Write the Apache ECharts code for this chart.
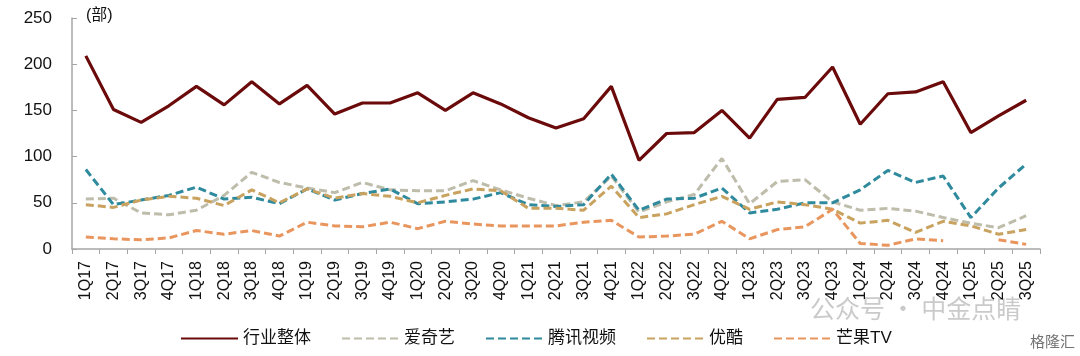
<!DOCTYPE html>
<html><head><meta charset="utf-8">
<script src="https://cdn.jsdelivr.net/npm/echarts@6/dist/echarts.min.js"></script>
<style>html,body{margin:0;padding:0;background:#fff}#c{width:1080px;height:356px}</style>
</head><body><div id="c"></div>
<script>
var categories = ['1Q17','2Q17','3Q17','4Q17','1Q18','2Q18','3Q18','4Q18','1Q19','2Q19','3Q19','4Q19','1Q20','2Q20','3Q20','4Q20','1Q21','2Q21','3Q21','4Q21','1Q22','2Q22','3Q22','4Q22','1Q23','2Q23','3Q23','4Q23','1Q24','2Q24','3Q24','4Q24','1Q25','2Q25','3Q25'];
var industryTotal = [209,151,137,155,176,156,181,157,177,146,158,158,169,150,169,157,142,131,141,176,96,125,126,150,120,162,164,197,135,168,170,181,126,144,161];
var iqiyi = [54,55,39,37,42,58,83,72,66,61,72,64,63,63,74,64,55,47,51,79,40,51,59,98,49,73,75,51,42,44,41,34,28,23,36];
var tencent = [86,48,53,58,67,54,56,49,65,53,60,65,49,51,54,61,48,46,48,81,42,54,55,66,39,43,50,50,64,85,72,79,34,66,92];
var youku = [48,45,53,57,55,47,64,50,65,55,60,57,50,58,65,63,44,44,42,68,34,38,48,57,43,51,48,43,28,31,18,30,25,16,21];
var mango = [13,11,10,12,20,16,20,14,29,25,24,29,22,30,27,25,25,25,29,31,13,14,16,30,11,21,24,43,6,4,11,9,null,10,5];
var seriesNames = ['行业整体','爱奇艺','腾讯视频','优酷','芒果TV'];
var yTicks = {min:0, max:250, interval:50};

var FONT = '"Liberation Sans", Arial, "Noto Sans CJK SC", sans-serif';
var chart = echarts.init(document.getElementById('c'), null, {renderer:'canvas'});
function dashed(name, data, color){
  return {name:name, type:'line', data:data, symbol:'none', showSymbol:false, connectNulls:false,
    lineStyle:{color:color, width:3, type:[8,4]}, itemStyle:{color:color}};
}
chart.setOption({
  animation:false,
  textStyle:{fontFamily:FONT},
  grid:{left:72, right:40, top:18, bottom:107, containLabel:false},
  legend:{left:175, top:325, itemWidth:57, itemHeight:12, itemGap:30,
    itemStyle:{opacity:0},
    textStyle:{fontSize:17, color:'#111', fontFamily:FONT},
    data:seriesNames},
  xAxis:{type:'category', data:categories, boundaryGap:true,
    axisLine:{lineStyle:{color:'#a6a6a6', width:1.5}},
    axisTick:{show:true, inside:false, length:5, interval:0, alignWithLabel:false, lineStyle:{color:'#a6a6a6'}},
    axisLabel:{rotate:90, interval:0, fontSize:16, color:'#111', margin:12, fontFamily:FONT}},
  yAxis:{type:'value', min:yTicks.min, max:yTicks.max, interval:yTicks.interval,
    splitLine:{show:false},
    axisLine:{show:true, lineStyle:{color:'#a6a6a6', width:1.5}},
    axisTick:{show:true, inside:true, length:5, lineStyle:{color:'#a6a6a6'}},
    axisLabel:{fontSize:17, color:'#111', margin:20, fontFamily:FONT}},
  graphic:[
    {type:'text', left:86, top:8, style:{text:'(部)', font:'16px '+FONT, fill:'#111'}},
    {type:'text', left:810, top:296, style:{text:'公众号 · 中金点睛', font:'25px "Noto Sans CJK SC"', fill:'rgba(150,150,150,0.5)'}},
    {type:'text', left:1030, top:334, style:{text:'格隆汇', font:'15px "Noto Sans CJK SC"', fill:'rgba(80,80,80,0.8)'}}
  ],
  series:[
    {name:seriesNames[0], type:'line', data:industryTotal, symbol:'none', showSymbol:false,
      lineStyle:{color:'#6b0a0a', width:3.2}, itemStyle:{color:'#6b0a0a'}},
    dashed(seriesNames[1], iqiyi, '#bebcaa'),
    dashed(seriesNames[2], tencent, '#2e8a9c'),
    dashed(seriesNames[3], youku, '#c8a25e'),
    dashed(seriesNames[4], mango, '#e9965e')
  ]
});
</script></body></html>
